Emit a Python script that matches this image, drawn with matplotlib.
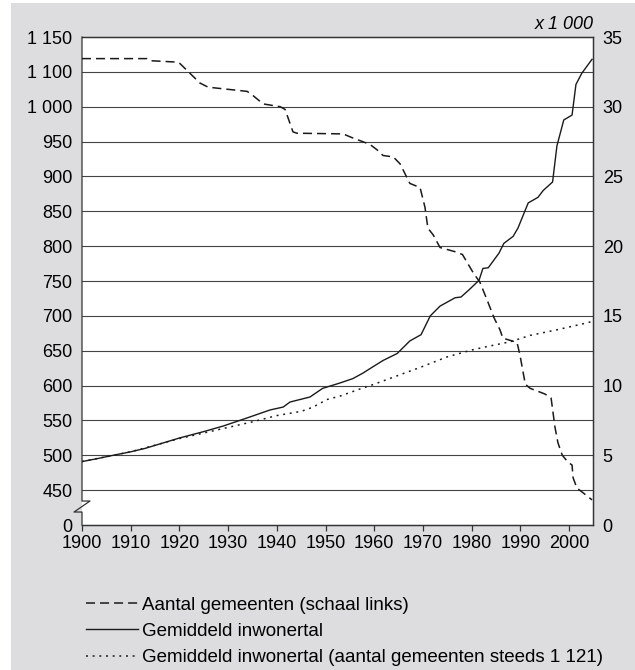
import numpy as np
import matplotlib.pyplot as plt
from matplotlib.lines import Line2D
from matplotlib.patches import Rectangle
import matplotlib.transforms as mtransforms

plt.rcParams['font.family'] = ['Liberation Sans', 'DejaVu Sans']
plt.rcParams['lines.scale_dashes'] = False

# Aantal gemeenten (schaal links)
years_gem = [1900, 1913.3, 1914, 1919.5, 1920.1, 1924.2, 1925.9, 1933.9, 1935.1, 1937.2,
             1940.7, 1941.7, 1943.3, 1944.1, 1953.6, 1955.3, 1959.1, 1960.6, 1961.8, 1963.9,
             1965.3, 1967.3, 1969.4, 1970.4, 1971, 1972.1, 1973.5, 1976.6, 1978.1, 1980.3,
             1981.7, 1983.2, 1984.6, 1985.8, 1986.4, 1988.3, 1989.3, 1989.9, 1991, 1992,
             1995, 1996.3, 1997.1, 1997.7, 1998.6, 1999.8, 2000.6, 2000.8, 2001.6, 2002.9,
             2004.7]
gemeenten = [1119, 1119, 1116, 1114, 1112, 1068, 1056, 1044, 1032, 1008,
             1000, 996, 964, 962, 961, 956, 946, 938, 930, 928,
             918, 890, 884, 856, 826, 816, 798, 792, 788, 762,
             748, 722, 697, 680, 668, 664, 662, 644, 602, 596,
             588, 582, 540, 518, 500, 490, 486, 468, 453, 446,
             436]

# Gemiddeld inwonertal (x 1 000, schaal rechts)
years_inw = [1900, 1903, 1906.4, 1910, 1913, 1916.6, 1920, 1925, 1929, 1933.9,
             1938.6, 1941.3, 1942.7, 1946.8, 1949.4, 1953, 1955.6, 1957.7, 1959.5, 1961.8,
             1964.7, 1967.3, 1969.6, 1971.5, 1973.5, 1976.6, 1977.8, 1979.4, 1981.5, 1982.3,
             1983.4, 1985.6, 1986.6, 1988.5, 1989.5, 1991.6, 1993.6, 1994.7, 1996.6, 1997.5,
             1998.9, 2000.6, 2001.4, 2002.6, 2004.7]
inwonertal = [4.55, 4.75, 5.0, 5.25, 5.5, 5.88, 6.24, 6.7, 7.1, 7.68,
              8.25, 8.46, 8.82, 9.18, 9.8, 10.19, 10.5, 10.9, 11.3, 11.8,
              12.3, 13.2, 13.65, 15.0, 15.7, 16.3, 16.35, 16.85, 17.55, 18.4,
              18.45, 19.5, 20.2, 20.7, 21.3, 23.1, 23.5, 24.0, 24.6, 27.2,
              29.05, 29.4, 31.6, 32.4, 33.4]

# Gemiddeld inwonertal bij steeds 1 121 gemeenten
years_vast = [1900, 1910, 1920, 1925, 1930, 1935, 1940, 1945, 1947.4, 1950.3,
              1953, 1957.1, 1960, 1963.9, 1969.4, 1974.9, 1980, 1983.2, 1988, 1992,
              1997.5, 2003.7, 2004.7]
inw_vast = [4.55, 5.25, 6.2, 6.6, 7.0, 7.4, 7.85, 8.15, 8.45, 9.0,
            9.25, 9.76, 10.1, 10.6, 11.3, 12.05, 12.55, 12.8, 13.15, 13.6,
            14.0, 14.5, 14.6]

# axis labels as printed in the source
left_vals = [450, 500, 550, 600, 650, 700, 750, 800, 850, 900, 950, 1000, 1100, 1150]
left_text = ['450', '500', '550', '600', '650', '700', '750', '800', '850', '900',
             '950', '1 000', '1 100', '1 150']
right_vals = [0, 5, 10, 15, 20, 25, 30, 35]
x_ticks = list(range(1900, 2001, 10))

# positions of the left labels on the right-hand scale
left_pos = [2.5 * (i + 1) for i in range(len(left_vals))]


def left_to_right(v):
    return np.interp(v, [400] + left_vals, [0] + left_pos)


FS = 13

fig = plt.figure(figsize=(6.35, 6.7), dpi=100, facecolor='white')
fig.add_artist(Rectangle((11 / 635, 0), 1, 1 - 3 / 670, transform=fig.transFigure,
                         facecolor='#dddddf', edgecolor='none', zorder=-10))

ax = fig.add_axes([82 / 635, 1 - 525 / 670, 511 / 635, 488 / 670])
ax.set_facecolor('white')
ax.set_xlim(1900, 2004.9)
ax.set_ylim(0, 35)

ax.plot(years_gem, left_to_right(np.array(gemeenten)), color='#1a1a1a', lw=1.1,
        dashes=(6.5, 3.6), label='Aantal gemeenten (schaal links)', zorder=3)
ax.plot(years_inw, inwonertal, color='#1a1a1a', lw=1.0,
        label='Gemiddeld inwonertal', zorder=3)
ax.plot(years_vast, inw_vast, color='#1a1a1a', lw=1.1, dashes=(1.4, 3.4),
        label='Gemiddeld inwonertal (aantal gemeenten steeds 1 121)', zorder=3)

for p in left_pos[:-1]:
    ax.axhline(p, color='#444444', lw=0.8, zorder=1)

ax.set_yticks([0] + left_pos)
ax.set_yticklabels(['0'] + left_text)
ax.tick_params(axis='y', length=0, pad=7, labelsize=FS)
ax.set_xticks(x_ticks)
ax.tick_params(axis='x', length=4, width=0.9, direction='out', pad=3, labelsize=FS,
               color='#333333')

axr = ax.twinx()
axr.set_ylim(0, 35)
axr.set_yticks(right_vals)
axr.tick_params(axis='y', length=0, pad=7, labelsize=FS)

for a in (ax, axr):
    for s in a.spines.values():
        s.set_color('#333333')
        s.set_linewidth(0.9)
ax.spines['left'].set_visible(False)
axr.spines['left'].set_visible(False)

# left axis with break symbol
tr = mtransforms.blended_transform_factory(ax.transAxes, ax.transData)
d = 8 / 511
bx = [0, 0, d, -d, 0, 0]
by = [35, 1.72, 1.72, 0.93, 0.93, 0]
ax.add_line(Line2D(bx, by, transform=tr, color='#333333', lw=0.9, clip_on=False))

fig.text(594 / 635, 1 - 29 / 670, 'x 1 000', ha='right', va='baseline',
         style='italic', fontsize=FS)

handles, labels = ax.get_legend_handles_labels()
leg = fig.legend(handles, labels, loc='upper left', bbox_to_anchor=(77 / 635, 1 - 587 / 670),
                 frameon=False, fontsize=13.5, handlelength=2.75, handletextpad=0.22,
                 labelspacing=0.5, borderpad=0)

fig.savefig('out.png', dpi=100, facecolor=fig.get_facecolor())
